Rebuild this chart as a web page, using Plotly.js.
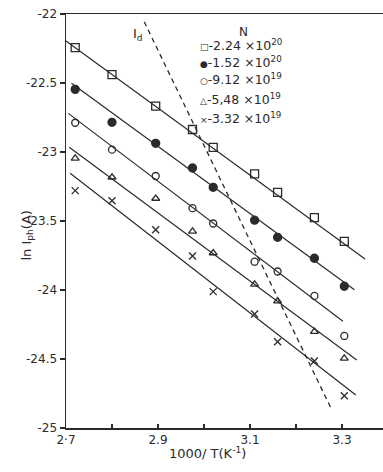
<!DOCTYPE html>
<html>
<head>
<meta charset="utf-8">
<script src="https://cdn.plot.ly/plotly-3.0.1.min.js"></script>
<style>html,body{margin:0;padding:0;background:#fff;}</style>
</head>
<body>
<div id="chart" style="width:383px;height:472px;"></div>
<script>
// 1000/T (K^-1) columns
const xs = [2.72, 2.80, 2.895, 2.975, 3.02, 3.11, 3.16, 3.24, 3.305];
// ln Iph (A) for each doping level N
const ySq     = [-22.244, -22.440, -22.667, -22.837, -22.967, -23.159, -23.293, -23.476, -23.647];
const yFilled = [-22.546, -22.785, -22.937, -23.116, -23.256, -23.494, -23.618, -23.770, -23.973];
const yHollow = [-22.788, -22.983, -23.174, -23.407, -23.518, -23.795, -23.866, -24.043, -24.333];
const yTri    = [-23.046, -23.183, -23.337, -23.575, -23.732, -23.959, -24.080, -24.302, -24.495];
const yCross  = [-23.280, -23.353, -23.563, -23.754, -24.012, -24.174, -24.375, -24.514, -24.766];
// fitted straight lines (start / end)
const fitX0 = [2.700, 2.712, 2.705, 2.707, 2.709];
const fitY0 = [-22.196, -22.502, -22.720, -22.966, -23.154];
const fitX1 = [3.350, 3.327, 3.302, 3.332, 3.330];
const fitY1 = [-23.775, -23.998, -24.226, -24.507, -24.761];
// dark current line Id
const idX = [2.870, 3.278];
const idY = [-22.056, -24.870];
// legend
const nMant = ['2.24', '1.52', '9.12', '5,48', '3.32'];
const nExp  = ['20', '20', '19', '19', '19'];
const glyphs = ['\u25A1', '\u25CF', '\u25CB', '\u25B3', '\u00D7'];
// ticks
const xTickVals = [2.7, 2.8, 2.9, 3.0, 3.1, 3.2, 3.3];
const xTickText = ['2\u00B77', '', '2.9', '', '3.1', '', '3.3'];
const yTickVals = [-25, -24.5, -24, -23.5, -23, -22.5, -22];
const yTickText = ['-25', '-24.5', '-24', '-23.5', '-23', '-22.5', '-22'];

const ink = '#2b2b2b';
const series = [ySq, yFilled, yHollow, yTri, yCross];
const symbols = ['square-open', 'circle', 'circle-open', 'triangle-up-open', 'x-thin-open'];
const sizes = [8, 8, 7, 7, 7];

const traces = [];
for (let i = 0; i < series.length; i++) {
  traces.push({
    x: [fitX0[i], fitX1[i]], y: [fitY0[i], fitY1[i]],
    mode: 'lines', line: {color: ink, width: 1.2},
    showlegend: false, hoverinfo: 'skip'
  });
  traces.push({
    x: xs, y: series[i], mode: 'markers',
    marker: {symbol: symbols[i], size: sizes[i], color: ink, line: {color: ink, width: 1.3}},
    showlegend: false
  });
}
traces.push({
  x: idX, y: idY, mode: 'lines',
  line: {color: ink, width: 1.3, dash: '5px,4px'},
  showlegend: false
});

const font = 'DejaVu Sans, Liberation Sans, sans-serif';
const annotations = [
  {x: 2.857, y: -22.15, xref: 'x', yref: 'y', text: 'I<sub>d</sub>', showarrow: false,
   font: {family: font, size: 13, color: ink}},
  {x: 3.085, y: -22.134, xref: 'x', yref: 'y', text: 'N', showarrow: false,
   font: {family: font, size: 12, color: ink}}
];
const rowY = [-22.227, -22.35, -22.472, -22.616, -22.754];
for (let i = 0; i < nMant.length; i++) {
  annotations.push({
    x: 2.986, y: rowY[i], xref: 'x', yref: 'y', xanchor: 'left', yanchor: 'middle',
    text: '<span style="font-size:9px">' + glyphs[i] + '</span>-' + nMant[i] + ' \u00D710<sup>' + nExp[i] + '</sup>',
    showarrow: false, font: {family: font, size: 12.5, color: ink}
  });
}
// axis titles as annotations (pixel-placed)
annotations.push({
  x: (207 - 66) / 317, y: -(463 - 428) / 414, xref: 'paper', yref: 'paper',
  text: '1000/ T(K<sup>-1</sup>)', showarrow: false,
  font: {family: font, size: 13, color: ink}
});
annotations.push({
  x: -(66 - 17) / 317, y: (428 - 236) / 414, xref: 'paper', yref: 'paper',
  text: 'ln I<sub>ph</sub>(A)', textangle: -90, showarrow: false,
  font: {family: font, size: 13, color: ink}
});

const layout = {
  width: 383, height: 472,
  margin: {l: 66, r: 0, t: 14, b: 44},
  paper_bgcolor: '#fff', plot_bgcolor: '#fff',
  showlegend: false,
  font: {family: font, size: 12, color: ink},
  xaxis: {
    range: [2.7, 2.7 + 317 / 460], showgrid: false, zeroline: false,
    showline: true, linecolor: ink, linewidth: 1.5, mirror: true,
    ticks: 'inside', ticklen: 4, tickwidth: 1.3, tickcolor: ink,
    tickmode: 'array', tickvals: xTickVals, ticktext: xTickText,
    tickfont: {family: font, size: 12, color: ink}
  },
  yaxis: {
    range: [-25, -22], showgrid: false, zeroline: false,
    showline: true, linecolor: ink, linewidth: 1.5,
    ticks: 'outside', ticklen: 5, tickwidth: 1.3, tickcolor: ink,
    tickmode: 'array', tickvals: yTickVals, ticktext: yTickText,
    tickfont: {family: font, size: 12, color: ink}
  },
  annotations: annotations
};

Plotly.newPlot('chart', traces, layout, {displayModeBar: false, staticPlot: true});
</script>
</body>
</html>
